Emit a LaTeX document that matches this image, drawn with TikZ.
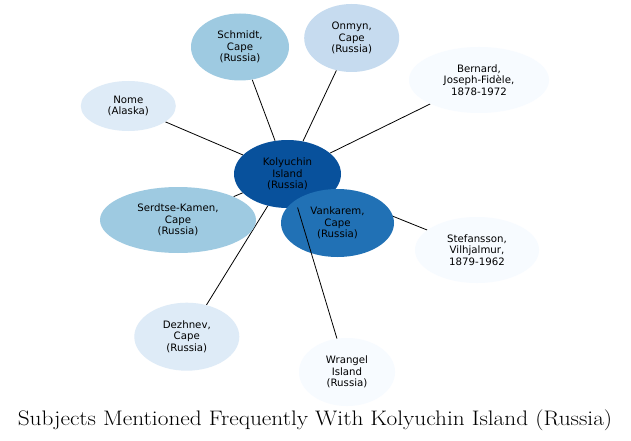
\documentclass[tikz,border=0pt]{standalone}
\usepackage{fontspec}
\usetikzlibrary{shapes.geometric}
\newfontfamily\dvsans{DejaVu Sans}
\definecolor{blueA}{HTML}{08519C}
\definecolor{blueB}{HTML}{2171B5}
\definecolor{blueC}{HTML}{9ECAE1}
\definecolor{blueD}{HTML}{C6DBEF}
\definecolor{blueE}{HTML}{DEEBF7}
\definecolor{blueF}{HTML}{F7FBFF}
\pgfdeclarelayer{background}
\pgfsetlayers{background,main}
\tikzset{
  subj/.style={ellipse, inner sep=0pt, align=center,
    font=\dvsans\fontsize{10.2}{11.7}\selectfont, text=black},
  link/.style={draw=black, line width=0.8pt},
}
\begin{document}
\begin{tikzpicture}[x=1pt,y=-1pt]
\useasboundingbox (0,0) rectangle (631,441);
\node[subj, fill=blueA, minimum width=107pt, minimum height=68pt] (kol) at (287.5,174) {Kolyuchin\\Island\\(Russia)};
\node[subj, fill=blueC, minimum width=98pt, minimum height=67pt] (sch) at (240,47) {Schmidt,\\Cape\\(Russia)};
\node[subj, fill=blueD, minimum width=95pt, minimum height=68pt] (onm) at (351.7,38) {Onmyn,\\Cape\\(Russia)};
\node[subj, fill=blueF, minimum width=140pt, minimum height=66pt] (ber) at (479,80) {Bernard,\\Joseph-Fidèle,\\1878-1972};
\node[subj, fill=blueE, minimum width=95pt, minimum height=50pt] (nom) at (128.3,106) {Nome\\(Alaska)};
\node[subj, fill=blueC, minimum width=156pt, minimum height=66pt] (ser) at (178,220) {Serdtse-Kamen,\\Cape\\(Russia)};
\node[subj, fill=blueB, minimum width=113pt, minimum height=68pt] (van) at (337.5,223) {Vankarem,\\Cape\\(Russia)};
\node[subj, fill=blueF, minimum width=124pt, minimum height=66pt] (ste) at (477,250) {Stefansson,\\Vilhjalmur,\\1879-1962};
\node[subj, fill=blueE, minimum width=105pt, minimum height=68pt] (dez) at (186.8,336.7) {Dezhnev,\\Cape\\(Russia)};
\node[subj, fill=blueF, minimum width=96pt, minimum height=68pt] (wra) at (347,372) {Wrangel\\Island\\(Russia)};
\begin{pgfonlayer}{background}
\fill[white] (0,0) rectangle (631,441);
\draw[link] (kol) -- (sch);
\draw[link] (kol) -- (onm);
\draw[link] (kol) -- (ber);
\draw[link] (kol) -- (nom);
\draw[link] (kol) -- (ser);
\draw[link] (kol) -- (ste);
\draw[link] (kol) -- (dez);
\end{pgfonlayer}
\draw[link] (kol) -- (wra);
\node[font=\fontsize{21}{24}\selectfont, anchor=base, xscale=1.11] (title) at (315,425) {Subjects Mentioned Frequently With Kolyuchin Island (Russia)};
\end{tikzpicture}
\end{document}
